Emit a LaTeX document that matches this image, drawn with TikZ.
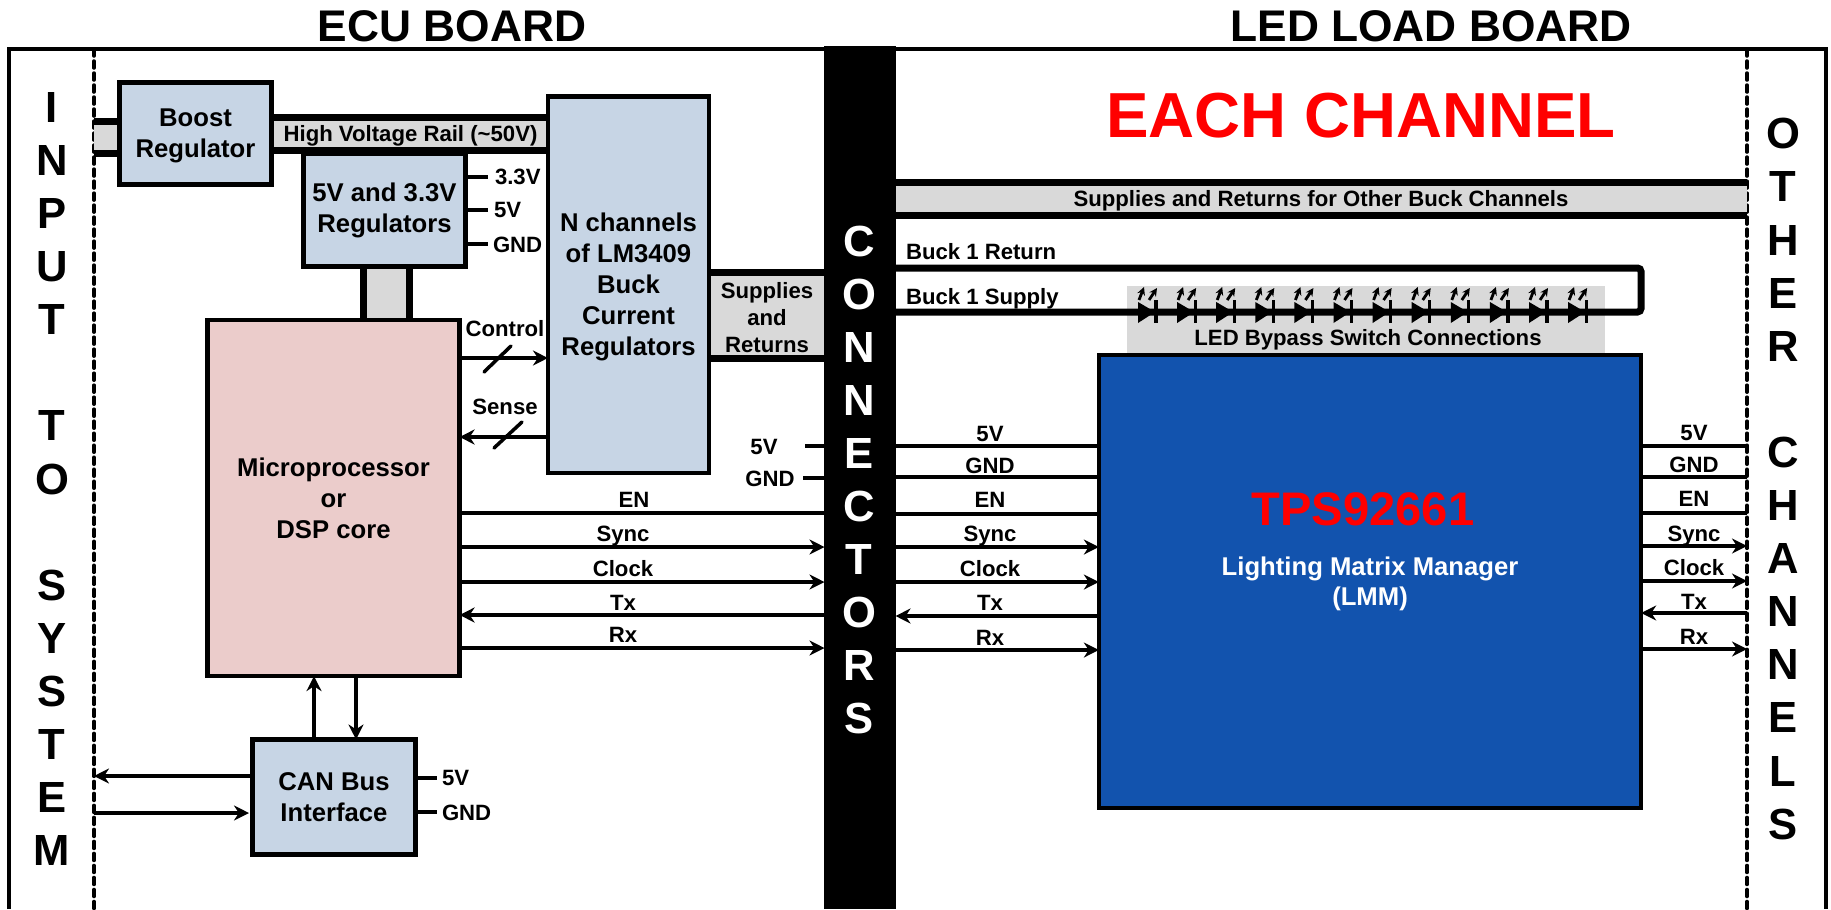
\documentclass[tikz,border=0pt]{standalone}
\usepackage{fontspec}
\setmainfont{Liberation Sans}
\usepackage{xcolor}
\usetikzlibrary{arrows.meta}
\definecolor{regblue}{RGB}{199,213,229}
\definecolor{corepink}{RGB}{235,204,203}
\definecolor{lmmblue}{RGB}{18,83,174}
\definecolor{railgray}{RGB}{217,217,217}

\begin{document}
\begin{tikzpicture}[x=0.01cm, y=-0.01cm,
    arr/.style={-{Stealth[length=1.5mm,width=1.5mm]}, line width=1pt},
    wire/.style={line width=1pt},
    bus/.style={line width=0.7mm},
    stub/.style={line width=1.1pt},
    dotline/.style={line width=1pt, line cap=round, dash pattern=on 0.7mm off 0.5mm},
    lbl/.style={font=\fontsize{6.3}{7.6}\selectfont\bfseries, inner sep=0pt, outer sep=0pt, text height=1.58mm, text depth=0mm},
    grp/.style={font=\fontsize{6.3}{7.7}\selectfont\bfseries, inner sep=0pt, outer sep=0pt, align=center},
    title/.style={font=\fontsize{12.6}{15}\selectfont\bfseries, inner sep=0pt, outer sep=0pt},
    vert/.style={font=\fontsize{12.4}{15.1}\selectfont\bfseries, inner sep=0pt, outer sep=0pt, align=center},
    regbox/.style={draw, line width=1.2pt, fill=regblue, font=\fontsize{7.3}{8.8}\selectfont\bfseries, inner sep=0pt, outer sep=0pt, align=center},
    band/.style={fill=railgray, inner sep=0pt, outer sep=0pt}]
  \useasboundingbox (0,0) rectangle (1831,909);

  % Titles
  \node[title] (ecuTitle) at (452,26) {ECU BOARD};
  \node[title] (ledTitle) at (1431,26) {LED LOAD BOARD};

  % Board outline and edges
  \draw[line width=1.35pt] (9,909) -- (9,49) -- (1826,49) -- (1826,909);
  \coordinate (dotL) at (94,0);
  \coordinate (dotR) at (1747,0);
  \draw[dotline] (94,49) -- (94,909);
  \draw[dotline] (1747,49) -- (1747,909);
  \node[vert] (inLbl) at (52,479) {I\\N\\P\\U\\T\\ \\T\\O\\ \\S\\Y\\S\\T\\E\\M};
  \node[vert] (otherLbl) at (1783,479) {O\\T\\H\\E\\R\\ \\C\\H\\A\\N\\N\\E\\L\\S};

  % Gray bands behind the heavy lines
  \node[band, minimum width=0.25cm, minimum height=0.32cm] (railIn) at (106.5,137) {};
  \node[band, lbl, fill=railgray, minimum width=2.75cm, minimum height=0.32cm] (rail) at (410.5,134) {High Voltage Rail (\textasciitilde 50V)};
  \node[band, minimum width=0.45cm, minimum height=0.53cm] (coreFeed) at (386.5,293.5) {};
  \node[band, grp, fill=railgray, minimum width=1.14cm, minimum height=0.85cm] (supRet) at (767,315.5) {\rule{0pt}{5.6pt}Supplies\\and\\Returns};
  \node[band, lbl, fill=railgray, minimum width=8.52cm, minimum height=0.32cm] (otherBuck) at (1321,199) {Supplies and Returns for Other Buck Channels};
  \node[band, minimum width=4.78cm, minimum height=0.69cm] (ledBand) at (1366,320.5) {};

  % Blocks
  \node[regbox, minimum width=1.52cm, minimum height=1.02cm] (boost) at (195.5,133.5) {\rule{0pt}{6.6pt}Boost\\Regulator};
  \node[regbox, minimum width=1.62cm, minimum height=1.13cm] (reg5v) at (384.5,210) {5V and 3.3V\\Regulators};
  \node[regbox, minimum width=1.61cm, minimum height=3.76cm] (buck) at (628.5,284.5) {\rule{0pt}{6.6pt}N channels\\of LM3409\\Buck\\Current\\Regulators};
  \node[regbox, fill=corepink, minimum width=2.52cm, minimum height=3.56cm] (core) at (333.5,498) {Microprocessor\\or\\DSP core};
  \node[regbox, minimum width=1.63cm, minimum height=1.15cm] (can) at (334,797) {CAN Bus\\Interface};
  \node[regbox, fill=lmmblue, minimum width=5.42cm, minimum height=4.52cm] (lmm) at (1370,581.5) {};
  \node[fill=black, inner sep=0pt, outer sep=0pt, minimum width=0.71cm, minimum height=8.63cm] (conn) at (860,477.5) {};
  \node[vert, text=white] (connLbl) at (859,480) {C\\O\\N\\N\\E\\C\\T\\O\\R\\S};

  % Text on the load board
  \node[font=\fontsize{18.1}{20}\selectfont\bfseries, text=red, inner sep=0pt] (eachLbl) at (1361,116) {EACH CHANNEL};
  \node[font=\fontsize{13.4}{16}\selectfont\bfseries, text=red, inner sep=0pt] (tpsLbl) at (1363,509) {TPS92661};
  \node[font=\fontsize{7.3}{8.6}\selectfont\bfseries, text=white, inner sep=0pt, align=center] (lmmLbl) at (1370,583.5) {Lighting Matrix Manager\\(LMM)};

  % High voltage rail
  \draw[bus] (dotL |- 0,121) -- (boost.west |- 0,121);
  \draw[bus] (dotL |- 0,153) -- (boost.west |- 0,153);
  \draw[bus] (rail.north west) -- (rail.north east);
  \draw[bus] (rail.south west) -- (rail.south east);

  % Regulator feed and outputs
  \draw[bus] (coreFeed.north west) -- (coreFeed.south west);
  \draw[bus] (coreFeed.north east) -- (coreFeed.south east);
  \draw[stub] (reg5v.east |- 0,177) -- (488,177);
  \draw[stub] (reg5v.east |- 0,210) -- (488,210);
  \draw[stub] (reg5v.east |- 0,244) -- (488,244);
  \node[lbl, anchor=west] (lbl33) at (495,177) {3.3V};
  \node[lbl, anchor=west] (lbl5v) at (494,210) {5V};
  \node[lbl, anchor=west] (lblGnd) at (493,245) {GND};

  % Buck supplies to connectors
  \draw[bus] (buck.east |- supRet.north) -- (conn.west |- supRet.north);
  \draw[bus] (buck.east |- supRet.south) -- (conn.west |- supRet.south);

  % Control and sense
  \draw[arr, line width=1.2pt] (core.east |- 0,358) -- (buck.west |- 0,358);
  \draw[arr, line width=1.2pt] (buck.west |- 0,437) -- (core.east |- 0,437);
  \draw[wire, line cap=round] (484,372) -- (511,346);
  \draw[wire, line cap=round] (494,448) -- (522,422);
  \node[lbl] (lblCtl) at (505,329) {Control};
  \node[lbl] (lblSns) at (505,407) {Sense};

  % CAN bus
  \draw[arr] (can.north -| 314,0) -- (core.south -| 314,0);
  \draw[arr] (core.south -| 356,0) -- (can.north -| 356,0);
  \draw[arr] (can.west |- 0,776) -- (dotL |- 0,776);
  \draw[arr] (dotL |- 0,813) -- (249,813);
  \draw[stub] (can.east |- 0,778) -- (437,778);
  \draw[stub] (can.east |- 0,812) -- (437,812);
  \node[lbl, anchor=west] (lblCan5v) at (442,778) {5V};
  \node[lbl, anchor=west] (lblCanGnd) at (442,813) {GND};

  % Core to connectors
  \draw[stub] (805,446) -- (conn.west |- 0,446);
  \draw[stub] (803,478) -- (conn.west |- 0,478);
  \node[lbl] (lblL5v) at (764,447) {5V};
  \node[lbl] (lblLGnd) at (770,479) {GND};
  \draw[wire] (core.east |- 0,513) -- (conn.west |- 0,513);
  \draw[arr] (core.east |- 0,547) -- (conn.west |- 0,547);
  \draw[arr] (core.east |- 0,582) -- (conn.west |- 0,582);
  \draw[arr] (conn.west |- 0,615) -- (core.east |- 0,615);
  \draw[arr] (core.east |- 0,648) -- (conn.west |- 0,648);
  \node[lbl] (lblLEn) at (634,500) {EN};
  \node[lbl] (lblLSync) at (623,534) {Sync};
  \node[lbl] (lblLClk) at (623,569) {Clock};
  \node[lbl] (lblLTx) at (623,603) {Tx};
  \node[lbl] (lblLRx) at (623,635) {Rx};

  % Connectors to LMM
  \draw[wire] (conn.east |- 0,446) -- (lmm.west |- 0,446);
  \draw[wire] (conn.east |- 0,477) -- (lmm.west |- 0,477);
  \draw[wire] (conn.east |- 0,514) -- (lmm.west |- 0,514);
  \draw[arr] (conn.east |- 0,547) -- (lmm.west |- 0,547);
  \draw[arr] (conn.east |- 0,582) -- (lmm.west |- 0,582);
  \draw[arr] (lmm.west |- 0,616) -- (conn.east |- 0,616);
  \draw[arr] (conn.east |- 0,650) -- (lmm.west |- 0,650);
  \node[lbl] (lblM5v) at (990,434) {5V};
  \node[lbl] (lblMGnd) at (990,466) {GND};
  \node[lbl] (lblMEn) at (990,500) {EN};
  \node[lbl] (lblMSync) at (990,534) {Sync};
  \node[lbl] (lblMClk) at (990,569) {Clock};
  \node[lbl] (lblMTx) at (990,603) {Tx};
  \node[lbl] (lblMRx) at (990,638) {Rx};

  % LMM to other channels
  \draw[wire] (lmm.east |- 0,446) -- (dotR |- 0,446);
  \draw[wire] (lmm.east |- 0,477) -- (dotR |- 0,477);
  \draw[wire] (lmm.east |- 0,513) -- (dotR |- 0,513);
  \draw[arr] (lmm.east |- 0,546) -- (dotR |- 0,546);
  \draw[arr] (lmm.east |- 0,581) -- (dotR |- 0,581);
  \draw[arr] (dotR |- 0,613) -- (lmm.east |- 0,613);
  \draw[arr] (lmm.east |- 0,649) -- (dotR |- 0,649);
  \node[lbl] (lblR5v) at (1694,433) {5V};
  \node[lbl] (lblRGnd) at (1694,465) {GND};
  \node[lbl] (lblREn) at (1694,499) {EN};
  \node[lbl] (lblRSync) at (1694,534) {Sync};
  \node[lbl] (lblRClk) at (1694,568) {Clock};
  \node[lbl] (lblRTx) at (1694,602) {Tx};
  \node[lbl] (lblRRx) at (1694,637) {Rx};

  % Buck channel lines
  \draw[bus] (conn.east |- otherBuck.north) -- (dotR |- otherBuck.north);
  \draw[bus] (conn.east |- otherBuck.south) -- (dotR |- otherBuck.south);
  \coordinate (loopEnd) at (1641,312);
  \draw[bus, rounded corners=1pt] (conn.east |- 0,268) -| (loopEnd) -- (conn.east |- loopEnd);
  \node[lbl, anchor=west] (lblRet) at (906,252) {Buck 1 Return};
  \node[lbl, anchor=west] (lblSup) at (906,297) {Buck 1 Supply};
  \node[lbl] (lblBypass) at (1368,338) {LED Bypass Switch Connections};

  % LED string
  \foreach \i in {0,...,11} {
    \begin{scope}[shift={(1156+39.1*\i,312)}]
      \fill (-18,-10) -- (-1,0) -- (-18,11) -- cycle;
      \draw[line width=0.9pt] (0,-12) -- (0,11);
      \draw[-{Stealth[length=0.8mm,width=0.8mm]}, line width=0.8pt] (-17,-12) -- (-12,-25);
      \draw[-{Stealth[length=0.8mm,width=0.8mm]}, line width=0.8pt] (-7,-12) -- (1,-24);
    \end{scope}
  }
\end{tikzpicture}
\end{document}
